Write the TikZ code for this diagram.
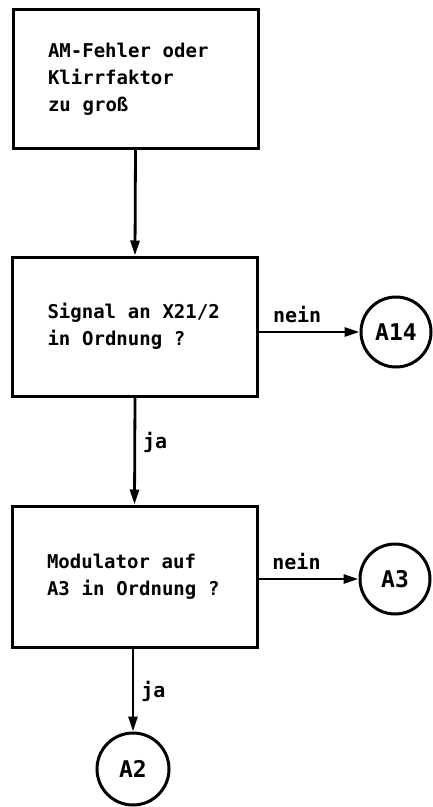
\documentclass[tikz,border=0pt]{standalone}
\usepackage{fontspec}
\setmainfont{DejaVu Sans Mono}
\usetikzlibrary{arrows.meta}
\newcommand{\gap}{\hspace{0.62em}}
\begin{document}
\begin{tikzpicture}[x=1pt,y=-1pt,
  boxnode/.style={draw,line width=3pt,rectangle,inner xsep=35pt,inner ysep=0pt,
    text width=175pt,align=left,minimum height=139pt,
    font=\bfseries\fontsize{19}{27}\selectfont},
  conn/.style={draw,line width=2.8pt,-{Triangle[length=15pt,width=9pt]}},
  lab/.style={font=\bfseries\fontsize{20}{21}\selectfont,inner sep=0pt},
  circ/.style={draw,line width=3pt,circle,minimum size=70pt,inner sep=0pt,
    font=\bfseries\fontsize{23}{24}\selectfont}]
\useasboundingbox (0,0) rectangle (433,807);
\node[boxnode] (b1) at (135.5,79) {AM-Fehler\gap{}oder\\Klirrfaktor\\zu\gap{}groß};
\node[boxnode] (b2) at (135,326.5) {Signal\gap{}an\gap{}X21/2\\in\gap{}Ordnung\gap{}?};
\node[boxnode,minimum height=141pt] (b3) at (134.5,576.5) {Modulator\gap{}auf\\A3\gap{}in\gap{}Ordnung\gap{}?};
\node[circ] (a14) at (396,332) {A14};
\node[circ] (a3) at (395,579) {A3};
\node[circ,minimum size=72pt] (a2) at (133,769) {A2};
\draw[conn] (b1.south) -- (b2.north);
\draw[conn] (b2.south) -- node[lab,right=7pt,pos=0.42] (ja1) {ja} (b3.north);
\draw[conn] (b3.south -| a2.north) -- node[lab,right=7pt,pos=0.52] (ja2) {ja} (a2.north);
\draw[conn] (b2.east |- a14.west) -- node[lab,above=8pt,pos=0.38] (n1) {nein} (a14.west);
\draw[conn] (b3.east |- a3.west) -- node[lab,above=8pt,pos=0.38] (n2) {nein} (a3.west);
\end{tikzpicture}
\end{document}
